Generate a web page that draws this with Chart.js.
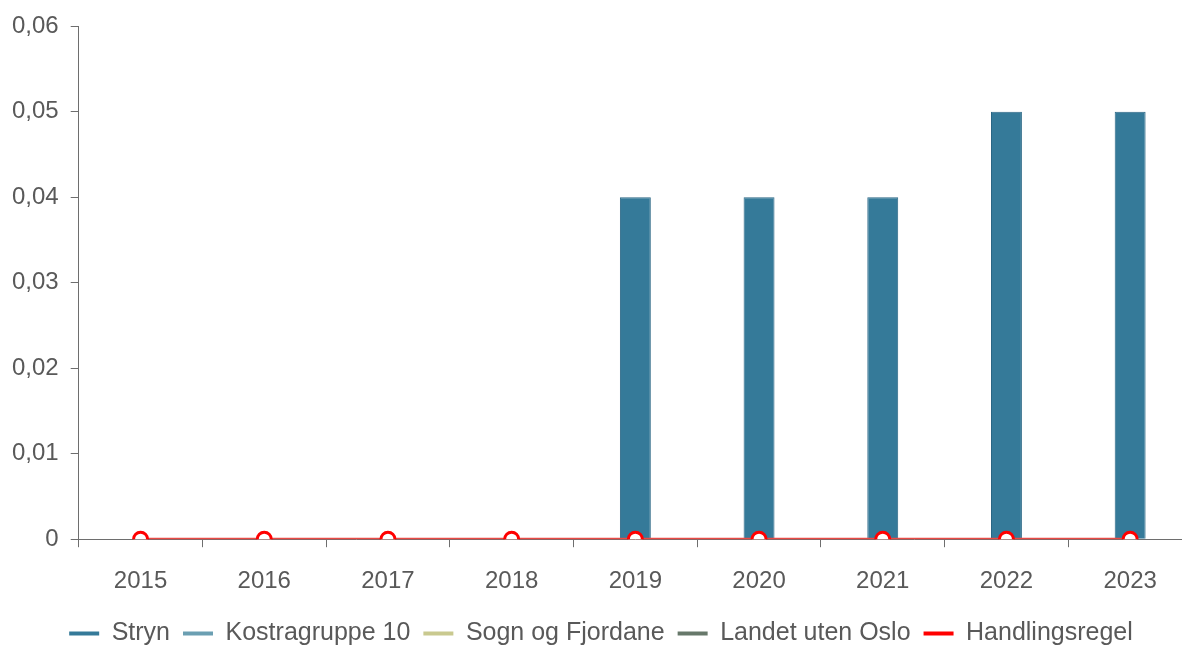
<!DOCTYPE html>
<html>
<head>
<meta charset="utf-8">
<script src="https://cdn.jsdelivr.net/npm/chart.js@4/dist/chart.umd.min.js"></script>
<style>
    body { margin: 0; overflow: hidden; background: #fff; }
    #wrap { position: absolute; left: 0; top: 0; }
</style>
</head>
<body>
<div id="wrap"><canvas id="myChart" width="1202" height="645"></canvas></div>
<script>
// Data
var years = ['2015', '2016', '2017', '2018', '2019', '2020', '2021', '2022', '2023'];
var stryn = [null, null, null, null, 0.04, 0.04, 0.04, 0.05, 0.05];
var kostragruppe10 = [null, null, null, null, null, null, null, null, null];
var sognOgFjordane = [null, null, null, null, null, null, null, null, null];
var landetUtenOslo = [null, null, null, null, null, null, null, null, null];
var handlingsregel = [0, 0, 0, 0, 0, 0, 0, 0, 0];
var yTicks = [0, 0.01, 0.02, 0.03, 0.04, 0.05, 0.06];

var textColor = '#595959';
var axisColor = '#6e6e6e';

Chart.defaults.font.family = '"Liberation Sans", Arial, sans-serif';
Chart.defaults.font.size = 24;
Chart.defaults.color = textColor;

var ctx = document.getElementById('myChart').getContext('2d');

var myChart = new Chart(ctx, {
    type: 'bar',
    data: {
        labels: years,
        datasets: [
            {
                type: 'bar',
                label: 'Stryn',
                data: stryn,
                backgroundColor: '#357a99',
                borderColor: '#2b6785',
                borderWidth: 1,
                categoryPercentage: 1,
                barPercentage: 0.25,
                order: 1
            },
            {
                type: 'line',
                label: 'Kostragruppe 10',
                data: kostragruppe10,
                borderColor: '#6b9fb2',
                backgroundColor: '#6b9fb2',
                order: 2
            },
            {
                type: 'line',
                label: 'Sogn og Fjordane',
                data: sognOgFjordane,
                borderColor: '#c9c98f',
                backgroundColor: '#c9c98f',
                order: 3
            },
            {
                type: 'line',
                label: 'Landet uten Oslo',
                data: landetUtenOslo,
                borderColor: '#67786a',
                backgroundColor: '#67786a',
                order: 4
            },
            {
                type: 'line',
                label: 'Handlingsregel',
                data: handlingsregel,
                borderColor: '#e84a45',
                backgroundColor: '#ff0000',
                borderWidth: 3,
                pointRadius: 7,
                pointBorderWidth: 3,
                pointBorderColor: '#ff0000',
                pointBackgroundColor: '#ffffff',
                order: 0
            }
        ]
    },
    options: {
        responsive: false,
        devicePixelRatio: 1,
        animation: false,
        layout: {
            padding: { left: 0, right: 0, top: 14, bottom: -11 }
        },
        plugins: {
            tooltip: { enabled: false },
            legend: {
                position: 'bottom',
                labels: {
                    boxWidth: 30,
                    boxHeight: 4,
                    padding: 13,
                    font: { size: 25 },
                    color: textColor,
                    sort: function (a, b) { return a.datasetIndex - b.datasetIndex; },
                    generateLabels: function (chart) {
                        var items = Chart.defaults.plugins.legend.labels.generateLabels(chart);
                        items.forEach(function (item) {
                            var ds = chart.data.datasets[item.datasetIndex];
                            item.fillStyle = ds.backgroundColor;
                            item.strokeStyle = ds.backgroundColor;
                            item.lineWidth = 0;
                        });
                        return items;
                    }
                }
            }
        },
        scales: {
            x: {
                offset: true,
                afterFit: function (axis) {
                    // labels sit closer to the legend in the original
                    axis.height -= 8;
                },
                grid: {
                    offset: true,
                    drawOnChartArea: false,
                    drawTicks: true,
                    tickLength: 8,
                    color: axisColor
                },
                border: { display: true, color: axisColor, width: 1 },
                ticks: { padding: 20, color: textColor, maxRotation: 0 }
            },
            y: {
                min: 0,
                max: 0.06,
                afterBuildTicks: function (axis) {
                    axis.ticks = yTicks.map(function (v) { return { value: v }; });
                },
                grid: {
                    drawOnChartArea: false,
                    drawTicks: true,
                    tickLength: 8,
                    color: axisColor
                },
                border: { display: true, color: axisColor, width: 1 },
                ticks: {
                    padding: 12,
                    color: textColor,
                    callback: function (value) {
                        return value === 0 ? '0' : value.toFixed(2).replace('.', ',');
                    }
                }
            }
        }
    }
});
</script>
</body>
</html>
